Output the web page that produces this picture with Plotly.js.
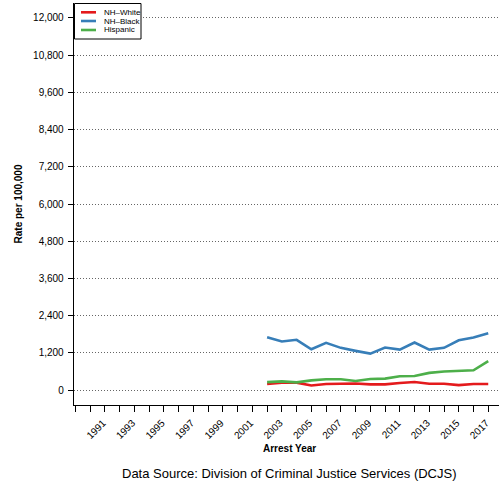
<!DOCTYPE html>
<html><head><meta charset="utf-8">
<script src="https://cdn.plot.ly/plotly-3.0.1.min.js"></script>
<style>html,body{margin:0;padding:0;background:#fff;}#chart{width:499px;height:483px;}</style>
</head><body><div id="chart"></div>
<script>
const years = [2002,2003,2004,2005,2006,2007,2008,2009,2010,2011,2012,2013,2014,2015,2016,2017];
const seriesNames = ["NH\u2013White","NH\u2013Black","Hispanic"];
const seriesColors = ["#E41A1C","#377EB8","#4DAF4A"];
const nhWhite = [195,240,240,150,195,215,215,185,185,230,260,205,205,160,195,195];
const nhBlack = [1706,1566,1621,1317,1524,1362,1265,1177,1372,1307,1534,1307,1362,1608,1696,1836];
const hispanic = [259,283,250,315,350,350,295,360,370,445,455,555,600,620,640,935];
const yTicks = [0,1200,2400,3600,4800,6000,7200,8400,9600,10800,12000];
const xTickYears = [1991,1993,1995,1997,1999,2001,2003,2005,2007,2009,2011,2013,2015,2017];

const seriesValues = [nhWhite, nhBlack, hispanic];
const font = "Liberation Sans, Arial, Helvetica, sans-serif";
const traces = seriesValues.map((v,i)=>({
  x: years, y: v, type:'scatter', mode:'lines', name: seriesNames[i],
  line:{color:seriesColors[i], width:2.6}, showlegend:false, hoverinfo:'skip'
}));

// manual legend (paper coords)
const W=499,H=483,L=74,T=3,B=78,R=0;
const pw=W-L-R, ph=H-T-B;
const px = x => (x-L)/pw;
const py = y => 1-(y-T)/ph;
const shapes = [
  {type:'rect', xref:'paper', yref:'paper', x0:px(74.5), x1:px(141), y0:py(39), y1:py(3.5), line:{color:'#000',width:1}, fillcolor:'#fff', layer:'above'}
];
const annotations = [];
const rowY=[12.3,21,30];
seriesNames.forEach((n,i)=>{
  shapes.push({type:'line', xref:'paper', yref:'paper', x0:px(81), x1:px(96), y0:py(rowY[i]), y1:py(rowY[i]), line:{color:seriesColors[i], width:2.6}, layer:'above'});
  annotations.push({xref:'paper', yref:'paper', x:px(102), y:py(rowY[i]), text:n, showarrow:false, xanchor:'left', yanchor:'middle', font:{family:font,size:8,color:'#000'}});
});
annotations.push({xref:'paper', yref:'paper', x:px(289), y:py(448.5), text:'<b>Arrest Year</b>', showarrow:false, xanchor:'center', yanchor:'middle', font:{family:font,size:10,color:'#000'}});
annotations.push({xref:'paper', yref:'paper', x:px(289), y:py(473.5), text:'Data Source: Division of Criminal Justice Services (DCJS)', showarrow:false, xanchor:'center', yanchor:'middle', font:{family:font,size:13,color:'#000'}});

const layout = {
  width:W, height:H, margin:{l:L,r:R,t:T,b:B,pad:0},
  paper_bgcolor:'#fff', plot_bgcolor:'#fff',
  font:{family:font, color:'#000'},
  xaxis:{
    range:[1988.9,2017.73], tickvals:xTickYears, ticktext:xTickYears.map(String), tickangle:-45,
    ticks:'outside', ticklen:6, tickwidth:1, tickcolor:'#000',
    ticklabelshift:-2, ticklabelstandoff:1, ticklabeloverflow:'allow',
    minor:{dtick:1, tick0:1990, ticks:'outside', ticklen:6, tickwidth:1, tickcolor:'#000', showgrid:false},
    showgrid:false, zeroline:false, showline:true, linecolor:'#000', linewidth:1.3,
    tickfont:{family:font,size:10,color:'#000'},
    automargin:false, fixedrange:true
  },
  yaxis:{
    range:[-480,12480], tickvals:yTicks, tickformat:',d',
    ticks:'outside', ticklen:5, tickwidth:1, tickcolor:'#000',
    showgrid:true, gridcolor:'#666', griddash:'1px,2px', gridwidth:1,
    zeroline:false, showline:true, linecolor:'#000', linewidth:1.3,
    tickfont:{family:font,size:10,color:'#000'},
    ticklabelstandoff:2,
    title:{text:'<b>Rate per 100,000</b>', font:{family:font,size:10,color:'#000'}, standoff:8},
    automargin:false, fixedrange:true
  },
  shapes:shapes, annotations:annotations, showlegend:false
};
Plotly.newPlot('chart', traces, layout, {displayModeBar:false, staticPlot:true});
</script></body></html>
